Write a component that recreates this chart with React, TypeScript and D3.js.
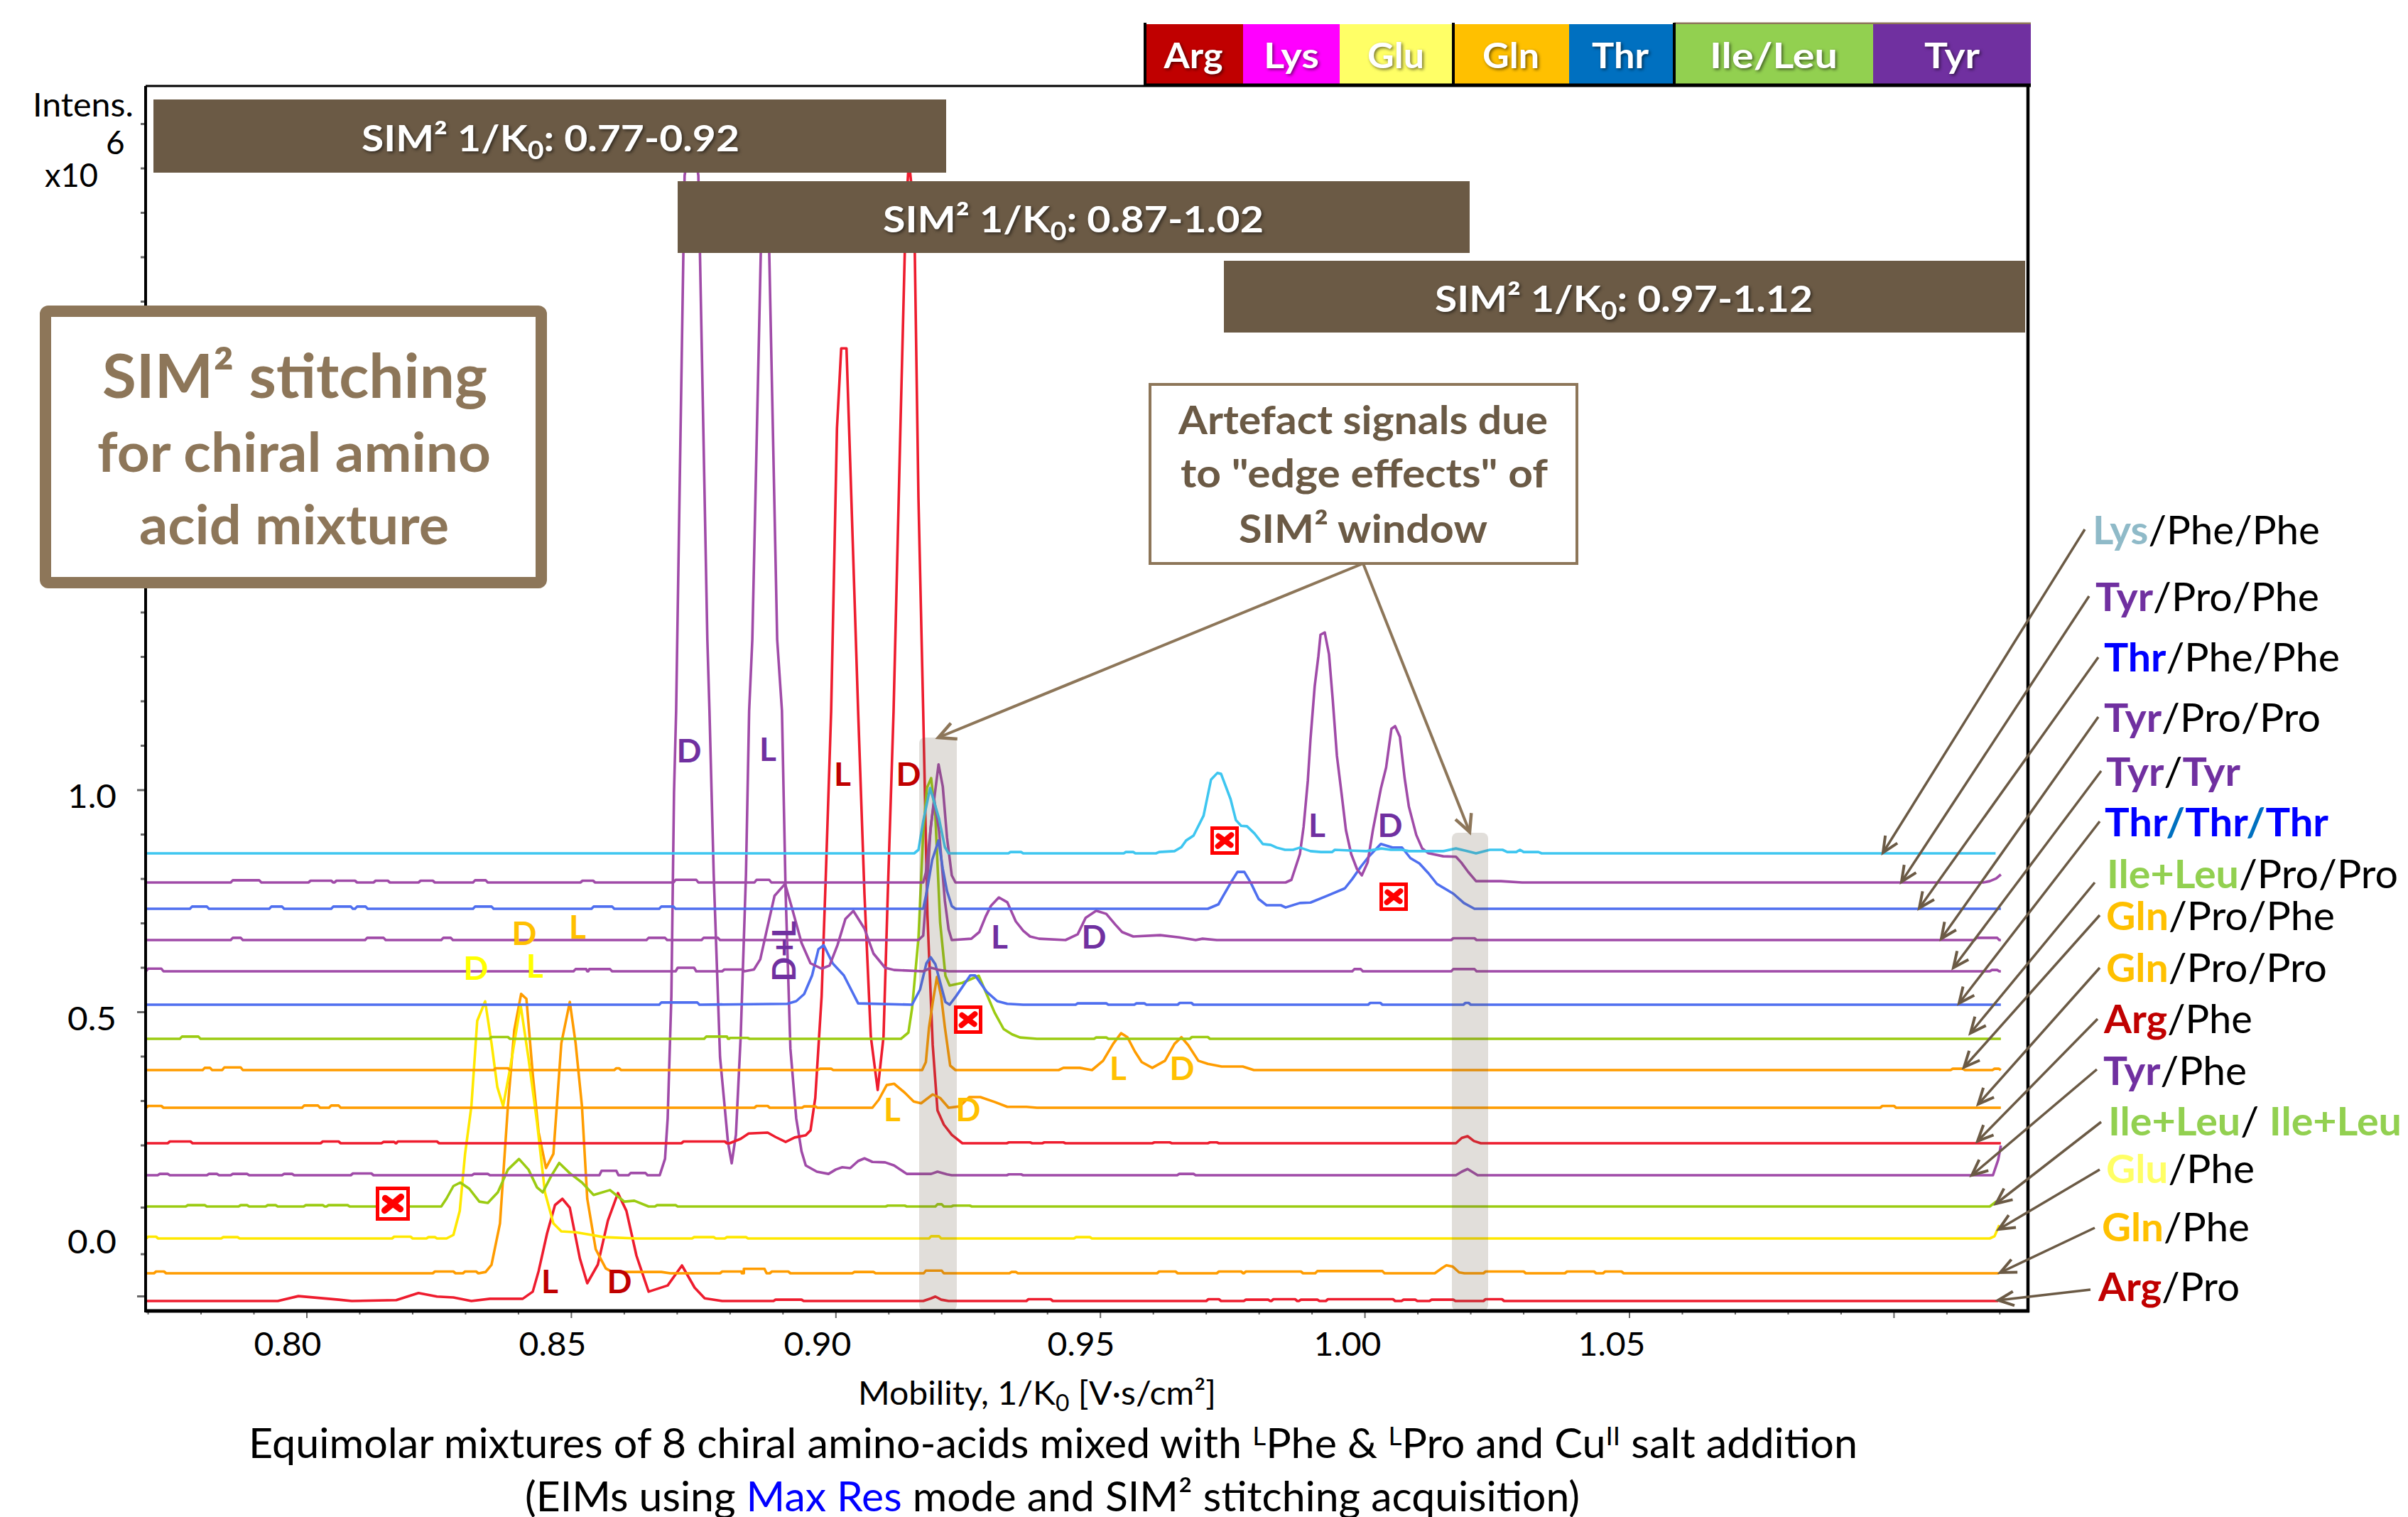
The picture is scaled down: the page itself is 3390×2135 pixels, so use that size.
import React from 'react';
import * as d3 from 'd3';

type P = [number, number];
type R = [number, number, number];

// ---------- DATA: [mobility 1/K0, intensity above own baseline, x10^6] ----------
const traceNames = ['Lys/Phe/Phe', 'Tyr/Pro/Phe', 'Thr/Phe/Phe', 'Tyr/Pro/Pro', 'Tyr/Tyr', 'Thr/Thr/Thr', 'Ile+Leu/Pro/Pro', 'Gln/Pro/Phe', 'Gln/Pro/Pro', 'Arg/Phe', 'Tyr/Phe', 'Ile+Leu/Ile+Leu', 'Glu/Phe', 'Gln/Phe', 'Arg/Pro'];
const baselines = [0.8576, 0.792, 0.7328, 0.6624, 0.592, 0.5168, 0.44, 0.3696, 0.2848, 0.2048, 0.1328, 0.0624, -0.0096, -0.088, -0.1504];
const traceColors = ['#3EC6F0', '#A04BA8', '#4F6FEF', '#A04BA8', '#A04BA8', '#4F6FEF', '#9BCB12', '#FF9C00', '#FF9C00', '#EE1C2E', '#A04BA8', '#9BCB12', '#FFE800', '#FF9C00', '#EE1C2E'];

const lysPhePhe: P[] = [[.7695,0],[.9148,0],[.9156,.008],[.9165,.072],[.9178,.147],[.9195,.078],[.9206,.014],[.9213,0],[.9605,0],[.9611,.003],[.9640,.005],[.9653,.014],[.9662,.029],[.9676,.04],[.9695,.085],[.9709,.166],[.9721,.181],[.9728,.179],[.9746,.122],[.9756,.075],[.9766,.062],[.9777,.061],[.9791,.045],[.9807,.021],[.9822,.019],[.9833,.013],[.9849,.008],[.9864,.008],[.9877,.013],[.9897,.005],[.9917,.003],[.9938,.003],[.9943,.008],[.9979,.006],[1.0003,.005],[1.0031,.011],[1.0049,.008],[1.0070,.008],[1.0083,.005],[1.0148,.005],[1.0172,.011],[1.0190,.006],[1.0210,0],[1.0236,.008],[1.0260,.008],[1.0269,.003],[1.0286,.003],[1.0293,.008],[1.0300,.003],[1.0328,.003],[1.0334,0],[1.1192,0]];
const lysPhePheRipple: R[] = [[.9330,.9350,.003],[.9548,.9562,.003]];

const tyrProPhe: P[] = [[.7695,0],[.9165,0],[.9170,.022],[.9182,.152],[.9194,.266],[.9202,.216],[.9210,.101],[.9219,.016],[.9226,0],[.9822,0],[.9850,0],[.9861,.006],[.9877,.064],[.9884,.125],[.9892,.229],[.9897,.322],[.9905,.442],[.9912,.51],[.9916,.558],[.9924,.563],[.9932,.514],[.9939,.413],[.9947,.285],[.9956,.198],[.9964,.118],[.9974,.064],[.9985,.03],[.9994,.016],[1.0005,.045],[1.0015,.118],[1.0030,.211],[1.0040,.259],[1.0050,.346],[1.0057,.352],[1.0066,.328],[1.0075,.235],[1.0083,.171],[1.0097,.107],[1.0108,.077],[1.0120,.066],[1.0148,.059],[1.0172,.058],[1.0182,.045],[1.0195,.024],[1.0210,.003],[1.0257,.003],[1.0297,0],[1.1169,0],[1.1181,.003],[1.1193,.009],[1.1202,.018]];
const tyrProPheRipple: R[] = [[.7860,.7910,.005],[.8007,.8046,.004],[.8056,.8091,.004],[.8130,.8153,.004],[.8215,.8238,.004],[.8318,.8338,.005],[.8521,.8541,.004],[.8697,.8736,.006],[.8850,.8874,.006]];

const thrPhePhe: P[] = [[.7695,0],[.9165,0],[.9172,.04],[.9182,.11],[.9194,.154],[.9202,.09],[.9210,.04],[.9219,.006],[.9226,0],[.9703,0],[.9723,.01],[.9732,.029],[.9748,.062],[.9759,.083],[.9772,.083],[.9784,.059],[.9799,.022],[.9814,.008],[.9841,.008],[.9850,.003],[.9877,.013],[.9897,.014],[.9928,.029],[.9962,.046],[.9976,.067],[.9993,.096],[1.0007,.117],[1.0030,.146],[1.0052,.138],[1.0070,.138],[1.0086,.114],[1.0103,.102],[1.0120,.08],[1.0136,.056],[1.0167,.034],[1.0187,.013],[1.0207,0],[1.1202,0]];
const thrPhePheRipple: R[] = [[.7783,.7811,.005],[.7933,.7953,.005],[.8050,.8083,.005],[.8095,.8111,.005],[.8318,.8349,.005],[.8542,.8577,.005],[.8670,.8693,.005]];

const tyrProPro: P[] = [[.7695,0],[.9156,0],[.9165,.01],[.9172,.117],[.9179,.253],[.9186,.315],[.9195,.245],[.9206,.088],[.9213,.024],[.9219,0],[.9256,.003],[.9271,.018],[.9283,.053],[.9293,.077],[.9308,.096],[.9324,.085],[.9340,.042],[.9354,.021],[.9367,.008],[.9384,.003],[.9434,0],[.9457,.013],[.9472,.05],[.9492,.066],[.9511,.059],[.9528,.035],[.9541,.018],[.9562,.008],[.9613,.011],[.9649,.006],[.9680,0],[.9693,.003],[.9720,0],[1.1202,0]];
const tyrProProRipple: R[] = [[.7860,.7875,.005],[.8114,.8145,.005],[.8258,.8272,.005],[.8646,.8677,.005],[.8750,.8777,.005],[1.0167,1.0207,.004],[1.1156,1.1195,.005]];

const tyrTyr: P[] = [[.7695,0],[.8845,.004],[.8857,.027],[.8869,.091],[.8884,.17],[.8904,.197],[.8918,.138],[.8935,.064],[.8952,.018],[.8973,.006],[.8988,.013],[.9003,.059],[.9018,.118],[.9033,.136],[.9054,.096],[.9071,.04],[.9093,.008],[.9110,.003],[.9165,0],[.9180,.008],[.9195,.003],[.9213,0],[1.1202,0]];
const tyrTyrRipple: R[] = [[.7700,.7725,.006],[.8508,.8528,.005],[.8534,.8573,.005],[.8701,.8732,.008],[.8789,.8823,.004],[.9980,.9992,.005],[1.0167,1.0207,.005],[1.1185,1.1195,.003]];

const thrThrThr: P[] = [[.7695,0],[.8908,.002],[.8925,.008],[.8940,.024],[.8955,.066],[.8967,.125],[.8977,.134],[.8994,.093],[.9015,.066],[.9027,.038],[.9042,.003],[.9144,0],[.9159,.034],[.9171,.093],[.9179,.107],[.9188,.091],[.9207,.006],[.9215,0],[.9227,.019],[.9254,.066],[.9263,.066],[.9285,.029],[.9305,.008],[.9324,.002],[.9354,0],[1.1202,0]];
const thrThrThrRipple: R[] = [[.8670,.8738,.005],[.9457,.9511,.003],[.9568,.9583,.003],[.9650,.9672,.004],[1.0010,1.0029,.004],[1.0190,1.0196,.004]];

const ileLeuProPro: P[] = [[.7695,0],[.9123,0],[.9137,.014],[.9144,.069],[.9156,.226],[.9165,.464],[.9172,.565],[.9180,.587],[.9188,.501],[.9197,.262],[.9207,.142],[.9215,.12],[.9239,.126],[.9270,.142],[.9283,.106],[.9300,.059],[.9317,.022],[.9333,.01],[.9348,.003],[.9380,0],[1.1202,0]];
const ileLeuProProRipple: R[] = [[.7764,.7795,.005],[.8349,.8380,.004],[.8755,.8794,.005],[.8800,.8833,.002],[.9492,.9511,.003],[.9673,.9703,.004]];

const glnProPhe: P[] = [[.7695,0],[.9163,0],[.9170,.018],[.9176,.096],[.9183,.152],[.9191,.21],[.9199,.166],[.9206,.096],[.9216,.01],[.9226,0],[.9421,0],[.9430,.005],[.9461,.005],[.9484,0],[.9505,.021],[.9524,.059],[.9539,.083],[.9551,.074],[.9565,.042],[.9578,.018],[.9598,.005],[.9622,.021],[.9640,.059],[.9653,.074],[.9666,.056],[.9685,.021],[.9703,.014],[.9729,.008],[.9769,.008],[.9790,0],[1.1202,0]];
const glnProPheRipple: R[] = [[.7807,.7817,.005],[.7844,.7875,.006],[.8357,.8380,.004],[.8585,.8590,.004],[.8970,.8991,.003],[1.1111,1.1130,.003],[1.1190,1.1198,.003]];

const glnProPro: P[] = [[.7695,0],[.9069,0],[.9081,.018],[.9096,.051],[.9110,.054],[.9130,.034],[.9147,.014],[.9161,.01],[.9183,.03],[.9197,.022],[.9213,0],[.9234,.003],[.9252,.024],[.9273,.024],[.9300,.013],[.9324,.002],[.9360,.002],[.9380,0],[1.1202,0]];
const glnProProRipple: R[] = [[.7700,.7725,.004],[.7995,.8021,.005],[.8046,.8060,.005],[.8850,.8871,.004],[.8940,.8961,.003],[1.0978,1.1000,.004]];

const argPhe: P[] = [[.7695,0],[.8799,0],[.8820,.01],[.8835,.022],[.8871,.024],[.8886,.014],[.8905,.003],[.8922,.013],[.8943,.018],[.8952,.029],[.8961,.102],[.8973,.331],[.8981,.606],[.8991,.973],[.9002,1.61],[.9010,1.79],[.9020,1.79],[.9027,1.534],[.9042,.973],[.9054,.56],[.9066,.24],[.9079,.12],[.9090,.24],[.9098,.56],[.9109,.973],[.9122,1.614],[.9132,2.094],[.9138,2.214],[.9148,2.094],[.9156,1.454],[.9165,.973],[.9173,.514],[.9183,.221],[.9192,.074],[.9204,.042],[.9219,.019],[.9239,0],[1.0172,0],[1.0183,.012],[1.0194,.016],[1.0206,.005],[1.0219,0],[1.1202,0]];
const argPheRipple: R[] = [[.7741,.7780,.004],[.8030,.8060,.004],[.8145,.8165,.003],[.8172,.8246,.004],[.8712,.8790,.004],[.9327,.9367,.002],[.9394,.9430,.002],[.9602,.9631,.002],[.9707,.9720,.002]];

const tyrPhe: P[] = [[.7695,0],[.8667,0],[.8677,.037],[.8682,.128],[.8689,.403],[.8694,.862],[.8698,1.046],[.8714,2.251],[.8728,2.35],[.8740,2.251],[.8743,2.077],[.8757,1.206],[.8761,1.046],[.8769,.678],[.8781,.266],[.8796,.074],[.8803,.027],[.8811,.091],[.8820,.312],[.8830,.678],[.8836,1.046],[.8842,1.206],[.8858,2.077],[.8866,2.166],[.8874,2.077],[.8889,1.206],[.8898,1.046],[.8905,.634],[.8914,.285],[.8925,.128],[.8935,.054],[.8943,.022],[.8964,.008],[.8986,.003],[.9000,.013],[.9012,.018],[.9027,.016],[.9042,.032],[.9054,.038],[.9069,.03],[.9093,.029],[.9110,.022],[.9134,.003],[.9180,.003],[.9192,.008],[.9210,.002],[.9219,0],[1.0172,0],[1.0183,.008],[1.0194,.014],[1.0213,0],[1.1187,0],[1.1197,.035],[1.1202,.067]];
const tyrPheRipple: R[] = [[.7722,.7737,.003],[.7815,.7830,.003],[.7860,.7887,.003],[.7957,.7972,.003],[.8087,.8122,.004],[.8316,.8342,.003],[.8557,.8585,.01],[.8612,.8640,.005],[.9327,.9350,.002],[.9649,.9676,.003]];

const ileLeuIleLeu: P[] = [[.7695,0],[.8254,0],[.8264,.018],[.8277,.046],[.8290,.054],[.8307,.04],[.8326,.011],[.8342,.008],[.8361,.032],[.8380,.083],[.8401,.107],[.8419,.083],[.8435,.043],[.8446,.032],[.8462,.069],[.8477,.098],[.8497,.075],[.8520,.054],[.8542,.026],[.8573,.037],[.8600,.011],[.8619,.013],[.8646,0],[1.1181,0],[1.1193,.011],[1.1196,.012]];
const ileLeuIleLeuRipple: R[] = [[.7775,.7807,.003],[.7875,.7887,.003],[.7926,.7941,.003],[.7998,.8030,.003],[.8041,.8077,.003],[.8662,.8697,.003],[.9098,.9130,.002],[.9192,.9200,.005],[.9222,.9253,.002]];

const gluPhe: P[] = [[.7695,0],[.8264,0],[.8277,.008],[.8289,.062],[.8299,.19],[.8311,.298],[.8322,.49],[.8337,.534],[.8349,.44],[.8360,.341],[.8371,.298],[.8384,.382],[.8404,.526],[.8419,.405],[.8435,.262],[.8450,.104],[.8466,.034],[.8481,.016],[.8508,.014],[.8538,.008],[.8561,.003],[.8623,0],[1.1181,0],[1.1190,.005],[1.1199,.03]];
const gluPheRipple: R[] = [[.7700,.7715,.004],[.7842,.7869,.003],[.8165,.8196,.004],[.8230,.8242,.003],[.8732,.8769,.003],[.8794,.8830,.003],[.9180,.9195,.005],[.9454,.9480,.003]];

const glnPhe: P[] = [[.7695,0],[.8325,0],[.8338,.003],[.8349,.019],[.8365,.112],[.8380,.376],[.8392,.547],[.8405,.629],[.8415,.618],[.8427,.448],[.8438,.318],[.8452,.237],[.8466,.269],[.8481,.518],[.8497,.611],[.8508,.518],[.8520,.376],[.8530,.168],[.8546,.054],[.8565,.011],[.8577,.003],[.8670,.003],[.8687,0],[1.0132,0],[1.0146,.012],[1.0154,.018],[1.0166,.015],[1.0178,.002],[1.0188,0],[1.1199,0]];
const glnPheRipple: R[] = [[.7715,.7730,.004],[.8242,.8277,.004],[.8299,.8320,.004],[.8785,.8822,.004],[.8826,.8865,.01],[.8879,.8910,.004],[.9035,.9071,.003],[.9170,.9200,.006],[.9332,.9340,.003],[.9611,.9642,.004],[.9724,.9766,.004],[.9775,.9879,.004],[.9910,1.0033,.005],[1.0228,1.0300,.004],[1.0382,1.0433,.004],[1.0454,1.0485,.004]];

const argPro: P[] = [[.7695,0],[.7945,0],[.7984,.011],[.8060,.003],[.8085,0],[.8169,.002],[.8211,.018],[.8246,.01],[.8277,.008],[.8311,0],[.8346,.005],[.8408,.005],[.8427,.021],[.8438,.067],[.8454,.152],[.8469,.216],[.8483,.23],[.8497,.21],[.8516,.096],[.8530,.04],[.8550,.082],[.8569,.181],[.8588,.243],[.8604,.203],[.8623,.102],[.8646,.021],[.8682,.035],[.8709,.08],[.8733,.03],[.8752,.006],[.8785,0],[.9165,0],[.9180,.006],[.9188,.01],[.9199,.003],[.9213,0],[1.1197,0]];
const argProRipple: R[] = [[.8886,.8935,.003],[.9364,.9406,.004],[.9704,.9724,.004],[.9775,.9817,.003],[.9827,.9868,.004],[.9879,.9910,.003],[.9930,1.0053,.004],[1.0073,1.0095,.003],[1.0126,1.0167,.003],[1.0228,1.0259,.004]];

const traceMain: P[][] = [lysPhePhe, tyrProPhe, thrPhePhe, tyrProPro, tyrTyr, thrThrThr, ileLeuProPro, glnProPhe, glnProPro, argPhe, tyrPhe, ileLeuIleLeu, gluPhe, glnPhe, argPro];
const traceRipple: R[][] = [lysPhePheRipple, tyrProPheRipple, thrPhePheRipple, tyrProProRipple, tyrTyrRipple, thrThrThrRipple, ileLeuProProRipple, glnProPheRipple, glnProProRipple, argPheRipple, tyrPheRipple, ileLeuIleLeuRipple, gluPheRipple, glnPheRipple, argProRipple];

const xMajorTicks = [0.8, 0.85, 0.9, 0.95, 1.0, 1.05, 1.1];
const xTickLabels = ['0.80', '0.85', '0.90', '0.95', '1.00', '1.05'];
const yTickValues = [2.5, 2.4, 2.3, 2.2, 2.1, 2.0, 1.9, 1.8, 1.7, 1.6, 1.5, 1.4, 1.3, 1.2, 1.1, 1.0, 0.9, 0.8, 0.7, 0.6, 0.5, 0.4, 0.3, 0.2, 0.06, -0.045, -0.14];
const yTickLabels = ['1.0', '0.5', '0.0'];
const legendNames = ['Arg', 'Lys', 'Glu', 'Gln', 'Thr', 'Ile/Leu', 'Tyr'];
const legendColors = ['#C00000', '#FF00FF', '#FFFF66', '#FFC000', '#0070C0', '#92D050', '#7030A0'];
const windowLabels = ['0.77-0.92', '0.87-1.02', '0.97-1.12'];

// ---------- LAYOUT ----------
const W = 3390, H = 2135;
const frame = { l: 205, t: 121, r: 2855, b: 1845 };
const x = d3.scaleLinear().domain([0.8, 1.05]).range([432, 2294]);
const y = d3.scaleLinear().domain([0, 1]).range([1737, 1112]);
const BROWN = '#6B5A45', TAN = '#8D7659';
const TYR = '#7030A0', THR = '#0000FF', ILE = '#92D050', GLN = '#FFC000', ARG = '#C00000', GLU = '#FFFF66';
const FONT = 'Lato, Carlito, "Open Sans", sans-serif';
const SHADOW = { filter: 'drop-shadow(2px 2px 2px rgba(0,0,0,0.55))' };

const legendEdges = [1612, 1750, 1886, 2046, 2209, 2357, 2637, 2859];
const legendText: [number, number][] = [[1680, 83], [1818, 78], [1965, 80], [2127, 80], [2281, 80], [2497, 180], [2748, 78]];
const windowBars = [
  { x0: 216, x1: 1332, y0: 140, y1: 243, tx: 509, tw: 532, by: 213 },
  { x0: 954, x1: 2069, y0: 255, y1: 356, tx: 1243, tw: 536, by: 327 },
  { x0: 1723, x1: 2851, y0: 367, y1: 468, tx: 2020, tw: 532, by: 439 },
];
const bands = [
  { x0: 1294, x1: 1347, y0: 1038, y1: 1845 },
  { x0: 2044, x1: 2095, y0: 1172, y1: 1845 },
];
const xLabelCenters = [405, 778, 1151, 1522, 1897, 2269];
const yLabelBaselines = [1137, 1450, 1764];
const crosses: [number, number, number][] = [[553, 1694, 48], [1363, 1435, 40], [1724, 1183, 40], [1962, 1262, 40]];

const peakLetters: [string, number, number, string][] = [
  ['D', 970, 1073, TYR], ['L', 1081, 1071, TYR], ['L', 1186, 1106, ARG], ['D', 1279, 1106, ARG],
  ['L', 1407, 1335, TYR], ['D', 1540, 1335, TYR], ['L', 1574, 1520, GLN], ['D', 1664, 1520, GLN],
  ['L', 1256, 1578, GLN], ['D', 1363, 1578, GLN], ['D', 670, 1379, '#FFFF00'], ['L', 753, 1376, '#FFFF00'],
  ['D', 738, 1330, GLN], ['L', 813, 1321, GLN], ['L', 774, 1820, ARG], ['D', 872, 1820, ARG],
  ['L', 1854, 1178, TYR], ['D', 1957, 1178, TYR],
];

const labelArrows: [number, number, number, number][] = [
  [2935, 745, 2651, 1200], [2941, 839, 2677, 1241], [2954, 925, 2702, 1278], [2954, 1009, 2733, 1321], [2958, 1085, 2750, 1362],
  [2956, 1156, 2758, 1412], [2949, 1242, 2774, 1454], [2956, 1288, 2765, 1502], [2956, 1362, 2785, 1554], [2953, 1434, 2784, 1606],
  [2952, 1505, 2776, 1654], [2958, 1579, 2810, 1694], [2956, 1646, 2814, 1730], [2949, 1728, 2816, 1791], [2943, 1815, 2813, 1830],
];
type Part = [string, string, boolean];
const sideLabels: { parts: Part[]; x: number; w: number; by: number }[] = [
  { parts: [['Lys', '#8FBAC8', true], ['/Phe/Phe', '#000', false]], x: 2946, w: 320, by: 766 },
  { parts: [['Tyr', TYR, true], ['/Pro/Phe', '#000', false]], x: 2950, w: 315, by: 860 },
  { parts: [['Thr', THR, true], ['/Phe/Phe', '#000', false]], x: 2962, w: 332, by: 945 },
  { parts: [['Tyr', TYR, true], ['/Pro/Pro', '#000', false]], x: 2962, w: 305, by: 1030 },
  { parts: [['Tyr', TYR, true], ['/', '#000', false], ['Tyr', TYR, true]], x: 2965, w: 189, by: 1106 },
  { parts: [['Thr', THR, true], ['/', '#0070C0', true], ['Thr', THR, true], ['/', '#0070C0', true], ['Thr', THR, true]], x: 2963, w: 315, by: 1177 },
  { parts: [['Ile+Leu', ILE, true], ['/Pro/Pro', '#000', false]], x: 2966, w: 410, by: 1250 },
  { parts: [['Gln', GLN, true], ['/Pro/Phe', '#000', false]], x: 2965, w: 322, by: 1309 },
  { parts: [['Gln', GLN, true], ['/Pro/Pro', '#000', false]], x: 2965, w: 311, by: 1382 },
  { parts: [['Arg', ARG, true], ['/Phe', '#000', false]], x: 2962, w: 209, by: 1454 },
  { parts: [['Tyr', TYR, true], ['/Phe', '#000', false]], x: 2961, w: 202, by: 1527 },
  { parts: [['Ile+Leu', ILE, true], ['/ ', '#000', false], ['Ile+Leu', ILE, true]], x: 2968, w: 413, by: 1598 },
  { parts: [['Glu', GLU, true], ['/Phe', '#000', false]], x: 2965, w: 209, by: 1665 },
  { parts: [['Gln', GLN, true], ['/Phe', '#000', false]], x: 2959, w: 208, by: 1747 },
  { parts: [['Arg', ARG, true], ['/Pro', '#000', false]], x: 2954, w: 199, by: 1831 },
];

function tracePoints(i: number): P[] {
  const main = traceMain[i];
  const last = main[main.length - 1][0];
  const extra: P[] = [];
  traceRipple[i].forEach(([a, b, h]) => {
    extra.push([a - 0.0004, 0], [a, h], [b, h], [Math.min(b + 0.0004, last), 0]);
  });
  const pts = [...main, ...extra].sort((p, q) => p[0] - q[0]);
  return pts.map(([m, h]) => [m, h + baselines[i]] as P);
}
const lineGen = d3.line<P>().x((d) => x(d[0])).y((d) => y(d[1]));

export default function App() {
  return (
    <svg width={W} height={H} viewBox={`0 0 ${W} ${H}`} style={{ position: 'absolute', left: 0, top: 0, background: '#fff', display: 'block' }}>
      <defs>
        <marker id="tan" markerUnits="userSpaceOnUse" markerWidth="50" markerHeight="50" refX="30" refY="25" orient="auto">
          <path d="M6,13 L30,25 L6,37" fill="none" stroke={TAN} strokeWidth="4.5" />
        </marker>
        <marker id="brown" markerUnits="userSpaceOnUse" markerWidth="50" markerHeight="50" refX="30" refY="25" orient="auto">
          <path d="M8,15 L30,25 L8,35" fill="none" stroke={BROWN} strokeWidth="4" />
        </marker>
      </defs>

      {/* y ticks */}
      {yTickValues.map((v) => {
        const major = v === 0.5 || v === 1.0 || v === -0.14;
        return <line key={v} x1={frame.l - (major ? 12 : 7)} x2={frame.l} y1={y(v)} y2={y(v)} stroke="#666" strokeWidth={3} />;
      })}
      {/* x ticks */}
      {d3.range(77, 113).map((k) => {
        const v = k / 100;
        const major = xMajorTicks.some((t) => Math.abs(t - v) < 1e-6);
        return <line key={k} x1={x(v)} x2={x(v)} y1={frame.b} y2={frame.b + (major ? 10 : 5)} stroke="#666" strokeWidth={2} />;
      })}

      {/* traces */}
      {traceNames.map((_, i) => traceNames.length - 1 - i).map((i) => (
        <path key={traceNames[i]} d={lineGen(tracePoints(i)) || ''} fill="none" stroke={traceColors[i]} strokeWidth={3.6} strokeLinejoin="round" />
      ))}

      {/* edge-effect bands */}
      {bands.map((b, i) => (
        <rect key={i} x={b.x0} y={b.y0} width={b.x1 - b.x0} height={b.y1 - b.y0} rx={8} fill={BROWN} opacity={0.2} />
      ))}

      {/* frame */}
      <line x1={frame.l} x2={frame.l} y1={frame.t} y2={frame.b + 2} stroke="#000" strokeWidth={4} />
      <line x1={frame.l} x2={frame.r + 2} y1={frame.b} y2={frame.b} stroke="#000" strokeWidth={5} />
      <line x1={frame.r} x2={frame.r} y1={frame.t} y2={frame.b + 2} stroke="#000" strokeWidth={4.5} />
      <line x1={frame.l} x2={1612} y1={frame.t} y2={frame.t} stroke="#000" strokeWidth={3} />

      {/* legend strip */}
      <line x1={2357} x2={legendEdges[7]} y1={33} y2={33} stroke={TAN} strokeWidth={3} />
      {legendNames.map((n, i) => (
        <rect key={n} x={legendEdges[i]} y={34} width={legendEdges[i + 1] - legendEdges[i]} height={84} fill={legendColors[i]} />
      ))}
      <line x1={1612} x2={legendEdges[7]} y1={120} y2={120} stroke="#000" strokeWidth={5} />
      {[1612, 2046, 2357].map((e) => (
        <line key={e} x1={e} x2={e} y1={32} y2={120} stroke="#000" strokeWidth={4} />
      ))}
      {legendNames.map((n, i) => (
        <text key={n} x={legendText[i][0]} y={96} fontSize={50} fontFamily={FONT} fontWeight={700} fill="#fff" textAnchor="middle"
          textLength={legendText[i][1]} lengthAdjust="spacingAndGlyphs" style={SHADOW}>{n}</text>
      ))}

      {/* mobility windows */}
      {windowBars.map((b, i) => (
        <g key={i}>
          <rect x={b.x0} y={b.y0} width={b.x1 - b.x0} height={b.y1 - b.y0} fill={BROWN} />
          <text x={b.tx} y={b.by} fontSize={52} fontFamily={FONT} fontWeight={700} fill="#fff" textLength={b.tw} lengthAdjust="spacingAndGlyphs" style={SHADOW}>
            SIM² 1/K<tspan dy={11} fontSize={36}>0</tspan><tspan dy={-11}>: {windowLabels[i]}</tspan>
          </text>
        </g>
      ))}

      {/* title box */}
      <rect x={64} y={438} width={698} height={382} rx={4} fill="#fff" stroke={TAN} strokeWidth={16} />
      <text x={144} y={560} fontSize={86} fontFamily={FONT} fontWeight={700} fill={TAN} textLength={542} lengthAdjust="spacingAndGlyphs">SIM² stitching</text>
      <text x={137} y={664} fontSize={76} fontFamily={FONT} fontWeight={700} fill={TAN} textLength={554} lengthAdjust="spacingAndGlyphs">for chiral amino</text>
      <text x={196} y={766} fontSize={76} fontFamily={FONT} fontWeight={700} fill={TAN} textLength={436} lengthAdjust="spacingAndGlyphs">acid mixture</text>

      {/* artefact box + arrows */}
      <rect x={1619} y={541} width={601} height={252} fill="#fff" stroke={TAN} strokeWidth={4} />
      <text x={1659} y={611} fontSize={56} fontFamily={FONT} fontWeight={700} fill={BROWN} textLength={520} lengthAdjust="spacingAndGlyphs">Artefact signals due</text>
      <text x={1662} y={686} fontSize={56} fontFamily={FONT} fontWeight={700} fill={BROWN} textLength={517} lengthAdjust="spacingAndGlyphs">to "edge effects" of</text>
      <text x={1744} y={764} fontSize={56} fontFamily={FONT} fontWeight={700} fill={BROWN} textLength={350} lengthAdjust="spacingAndGlyphs">SIM² window</text>
      <line x1={1919} y1={793} x2={1321} y2={1038} stroke={TAN} strokeWidth={4} markerEnd="url(#tan)" />
      <line x1={1919} y1={793} x2={2069} y2={1171} stroke={TAN} strokeWidth={4} markerEnd="url(#tan)" />

      {/* peak letters */}
      {peakLetters.map(([t, px, py, c], i) => (
        <text key={i} x={px} y={py} fontSize={46} fontFamily={FONT} fontWeight={700} fill={c} textAnchor="middle">{t}</text>
      ))}
      <text transform="translate(1120,1339) rotate(-90)" fontSize={46} fontFamily={FONT} fontWeight={700} fill={TYR} textAnchor="middle">D+L</text>

      {/* red cross markers */}
      {crosses.map(([cx, cy, s], i) => (
        <g key={i}>
          <rect x={cx - s / 2 + 2.5} y={cy - s / 2 + 2.5} width={s - 5} height={s - 5} fill="#fff" stroke="#F00" strokeWidth={5} />
          <path d={`M${cx - s * 0.22},${cy - s * 0.16} L${cx + s * 0.22},${cy + s * 0.16} M${cx + s * 0.24},${cy - s * 0.2} L${cx - s * 0.24},${cy + s * 0.2}`} stroke="#F00" strokeWidth={s * 0.19} strokeLinecap="round" fill="none" />
        </g>
      ))}

      {/* side labels */}
      {labelArrows.map(([a, b, c, d], i) => (
        <line key={i} x1={a} y1={b} x2={c} y2={d} stroke={BROWN} strokeWidth={3.5} markerEnd="url(#brown)" />
      ))}
      {sideLabels.map((l, i) => (
        <text key={i} x={l.x} y={l.by} fontSize={56} fontFamily={FONT} textLength={l.w} lengthAdjust="spacingAndGlyphs" xmlSpace="preserve">
          {l.parts.map(([s, c, b], j) => <tspan key={j} fill={c} fontWeight={b ? 700 : 400}>{s}</tspan>)}
        </text>
      ))}

      {/* axis text */}
      {xTickLabels.map((t, i) => (
        <text key={t} x={xLabelCenters[i]} y={1908} fontSize={46} fontFamily={FONT} textAnchor="middle" textLength={95} lengthAdjust="spacingAndGlyphs">{t}</text>
      ))}
      {yTickLabels.map((t, i) => (
        <text key={t} x={164} y={yLabelBaselines[i]} fontSize={46} fontFamily={FONT} textAnchor="end" textLength={69} lengthAdjust="spacingAndGlyphs">{t}</text>
      ))}
      <text x={46} y={164} fontSize={46} fontFamily={FONT} textLength={142} lengthAdjust="spacingAndGlyphs">Intens.</text>
      <text x={149} y={217} fontSize={46} fontFamily={FONT}>6</text>
      <text x={63} y={263} fontSize={46} fontFamily={FONT} textLength={75} lengthAdjust="spacingAndGlyphs">x10</text>
      <text x={1208} y={1977} fontSize={46} fontFamily={FONT} textLength={504} lengthAdjust="spacingAndGlyphs">
        Mobility, 1/K<tspan dy={9} fontSize={32}>0</tspan><tspan dy={-9}> [V·s/cm²]</tspan>
      </text>
      <text x={350} y={2052} fontSize={58} fontFamily={FONT} textLength={2265} lengthAdjust="spacingAndGlyphs">
        Equimolar mixtures of 8 chiral amino-acids mixed with <tspan dy={-18} fontSize={36}>L</tspan><tspan dy={18}>Phe &amp; </tspan><tspan dy={-18} fontSize={36}>L</tspan><tspan dy={18}>Pro and Cu</tspan><tspan dy={-18} fontSize={36}>II</tspan><tspan dy={18}> salt addition</tspan>
      </text>
      <text x={739} y={2127} fontSize={58} fontFamily={FONT} textLength={1485} lengthAdjust="spacingAndGlyphs">
        (EIMs using <tspan fill="#0000FF">Max Res</tspan> mode and SIM² stitching acquisition)
      </text>
    </svg>
  );
}
